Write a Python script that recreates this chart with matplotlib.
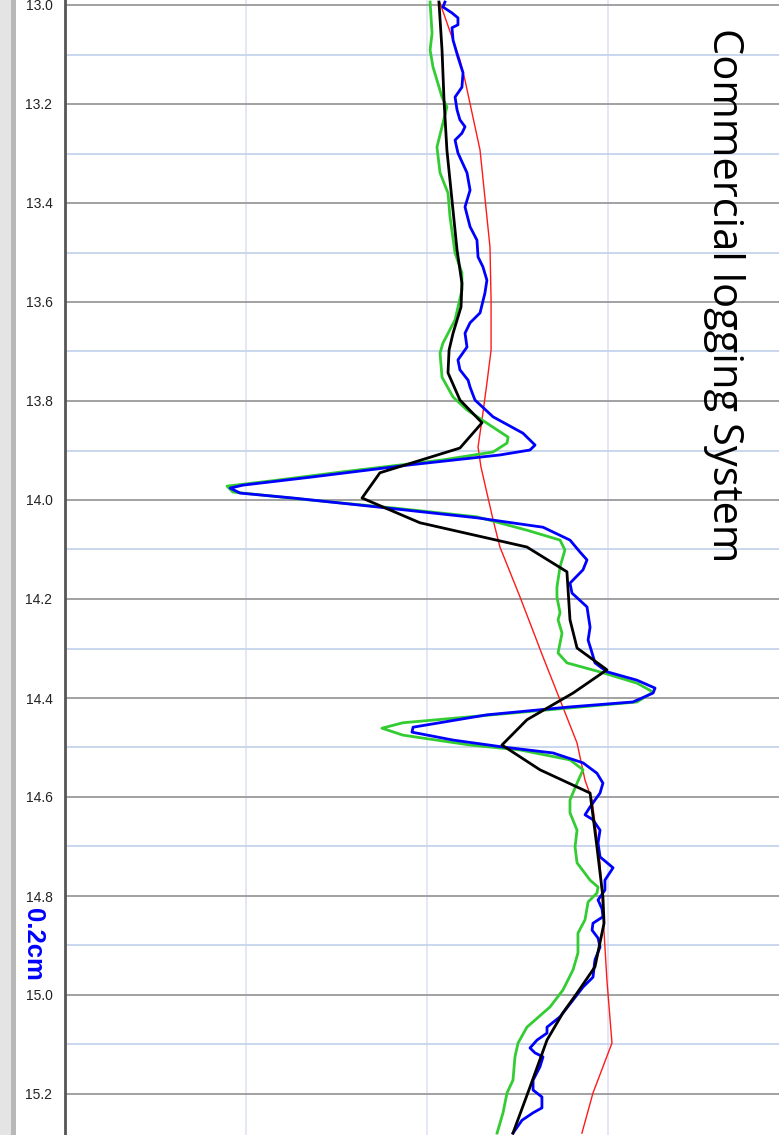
import matplotlib
matplotlib.use("Agg")
import matplotlib.pyplot as plt
from matplotlib.patches import Rectangle
import numpy as np

# ---- data (depth in m, log value in arbitrary track units) ----
green_x = [2.017, 2.028, 2.017, 2.033, 2.083, 2.110, 2.083, 2.055, 2.072, 2.116, 2.127, 2.155, 2.193, 2.193,
           2.155, 2.088, 2.072, 2.083, 2.144, 2.221, 2.365, 2.448, 2.442, 2.365, 2.088, 1.536, 1.171, 0.895,
           0.928, 1.354, 1.812, 2.276, 2.552, 2.735, 2.762, 2.735, 2.718, 2.718, 2.735, 2.724, 2.746, 2.724,
           2.773, 2.972, 3.160, 3.249, 3.160, 2.790, 2.238, 1.867, 1.751, 1.867, 2.238, 2.514, 2.790, 2.862,
           2.829, 2.790, 2.790, 2.829, 2.818, 2.829, 2.901, 2.945, 2.939, 2.890, 2.873, 2.834, 2.834, 2.807,
           2.751, 2.680, 2.552, 2.503, 2.486, 2.475, 2.442, 2.420, 2.387]
green_d = [12.994, 13.057, 13.091, 13.125, 13.186, 13.206, 13.246, 13.287, 13.339, 13.380, 13.428, 13.501,
           13.541, 13.576, 13.636, 13.683, 13.703, 13.752, 13.792, 13.818, 13.853, 13.873, 13.885, 13.903,
           13.919, 13.943, 13.960, 13.972, 13.984, 14.000, 14.016, 14.034, 14.061, 14.081, 14.101, 14.135,
           14.176, 14.196, 14.228, 14.242, 14.269, 14.309, 14.329, 14.349, 14.370, 14.388, 14.408, 14.420,
           14.438, 14.450, 14.461, 14.475, 14.495, 14.505, 14.525, 14.545, 14.572, 14.606, 14.632, 14.667,
           14.701, 14.733, 14.768, 14.782, 14.794, 14.812, 14.848, 14.875, 14.915, 14.949, 14.990, 15.024,
           15.065, 15.097, 15.125, 15.172, 15.198, 15.238, 15.279]

blue_x = [2.099, 2.088, 2.138, 2.171, 2.171, 2.138, 2.144, 2.171, 2.199, 2.193, 2.155, 2.166, 2.182, 2.210,
          2.193, 2.155, 2.171, 2.221, 2.238, 2.210, 2.238, 2.276, 2.282, 2.309, 2.331, 2.320, 2.293, 2.238,
          2.210, 2.221, 2.171, 2.182, 2.227, 2.238, 2.265, 2.365, 2.530, 2.597, 2.569, 2.403, 1.906, 1.354,
          0.983, 0.912, 0.967, 1.260, 1.724, 2.276, 2.641, 2.790, 2.845, 2.884, 2.862, 2.790, 2.801, 2.884,
          2.901, 2.890, 2.912, 2.928, 2.994, 3.160, 3.260, 3.249, 3.138, 2.790, 2.331, 1.923, 1.917, 2.144,
          2.420, 2.696, 2.862, 2.939, 2.972, 2.956, 2.901, 2.873, 2.917, 2.956, 2.945, 2.956, 3.028, 2.983,
          2.983, 2.945, 2.967, 2.972, 2.917, 2.912, 2.945, 2.956, 2.928, 2.917, 2.862, 2.807, 2.735, 2.663,
          2.663, 2.608, 2.569, 2.597, 2.641, 2.624, 2.586, 2.586, 2.635, 2.635, 2.586, 2.525, 2.475]
blue_d = [12.994, 13.004, 13.016, 13.026, 13.040, 13.046, 13.071, 13.105, 13.137, 13.166, 13.186, 13.212,
          13.232, 13.246, 13.259, 13.273, 13.299, 13.339, 13.374, 13.408, 13.448, 13.475, 13.509, 13.529,
          13.556, 13.582, 13.622, 13.642, 13.663, 13.691, 13.717, 13.737, 13.758, 13.772, 13.798, 13.832,
          13.865, 13.889, 13.899, 13.909, 13.929, 13.954, 13.970, 13.976, 13.986, 13.996, 14.014, 14.036,
          14.055, 14.081, 14.105, 14.121, 14.141, 14.168, 14.188, 14.216, 14.257, 14.283, 14.309, 14.329,
          14.347, 14.364, 14.380, 14.390, 14.408, 14.418, 14.434, 14.459, 14.469, 14.485, 14.499, 14.511,
          14.531, 14.552, 14.572, 14.592, 14.620, 14.636, 14.646, 14.667, 14.693, 14.721, 14.743, 14.768,
          14.788, 14.808, 14.826, 14.842, 14.855, 14.869, 14.885, 14.903, 14.929, 14.964, 14.984, 15.010,
          15.044, 15.065, 15.077, 15.091, 15.107, 15.117, 15.125, 15.145, 15.172, 15.192, 15.206, 15.228,
          15.238, 15.253, 15.279]

black_x = [2.066, 2.083, 2.094, 2.110, 2.138, 2.166, 2.193, 2.188, 2.144, 2.122, 2.116, 2.182, 2.304, 2.182,
           1.740, 1.641, 1.961, 2.552, 2.773, 2.790, 2.829, 2.994, 2.807, 2.552, 2.414, 2.624, 2.901, 2.939,
           2.972, 2.978, 2.928, 2.829, 2.751, 2.663, 2.569, 2.475]
black_d = [12.994, 13.091, 13.192, 13.293, 13.394, 13.495, 13.562, 13.610, 13.663, 13.697, 13.743, 13.798,
           13.844, 13.895, 13.945, 13.996, 14.046, 14.095, 14.145, 14.242, 14.299, 14.343, 14.390, 14.444,
           14.495, 14.545, 14.592, 14.701, 14.802, 14.855, 14.943, 14.996, 15.036, 15.091, 15.186, 15.279]

red_x = [2.072, 2.182, 2.210, 2.293, 2.348, 2.354, 2.354, 2.331, 2.309, 2.282, 2.298, 2.365, 2.403, 2.514,
         2.641, 2.735, 2.829, 2.873, 2.912, 2.956, 2.972, 2.994, 3.022, 2.917, 2.856]
red_d = [12.996, 13.111, 13.152, 13.293, 13.489, 13.596, 13.697, 13.764, 13.824, 13.893, 13.933, 14.040,
         14.095, 14.196, 14.317, 14.404, 14.491, 14.566, 14.606, 14.733, 14.834, 14.970, 15.097, 15.198,
         15.279]

depth_ticks = [13.0, 13.2, 13.4, 13.6, 13.8, 14.0, 14.2, 14.4, 14.6, 14.8, 15.0, 15.2]
depth_minor = [13.1, 13.3, 13.5, 13.7, 13.9, 14.1, 14.3, 14.5, 14.7, 14.9, 15.1]
track_grid = [1, 2, 3]

W, H = 779, 1135
fig = plt.figure(figsize=(W / 100, H / 100), dpi=100)
fig.patch.set_facecolor("white")

left_px = 65
ax = fig.add_axes([left_px / W, 0, 1 - left_px / W, 1])
ax.set_xlim(0, (W - left_px) / 181.0)
ax.set_ylim(13.0 + (H - 5) / 495.0, 13.0 - 5 / 495.0)

ax.set_yticks(depth_ticks)
ax.set_yticks(depth_minor, minor=True)
ax.set_yticklabels([f"{v:.1f}" for v in depth_ticks], fontsize=10, color="#222222",
                   family=["Liberation Sans", "DejaVu Sans"])
ax.set_xticks(track_grid)
ax.set_xticklabels([])
ax.tick_params(axis="both", which="both", length=0)
ax.tick_params(axis="y", pad=9)

ax.grid(which="major", axis="y", color="#9a9a9a", lw=1.3, zorder=0)
ax.grid(which="minor", axis="y", color="#c4d4ea", lw=1.3, zorder=0)
ax.grid(which="major", axis="x", color="#e2e5f5", lw=1.3, zorder=0)
ax.set_axisbelow(True)

for s in ["top", "right", "bottom"]:
    ax.spines[s].set_visible(False)
ax.spines["left"].set_color("#555555")
ax.spines["left"].set_linewidth(2)

ax.plot(red_x, red_d, color="#ff1a1a", lw=1.0, zorder=3)
ax.plot(green_x, green_d, color="#33cc33", lw=2.0, zorder=4)
ax.plot(blue_x, blue_d, color="#0000ff", lw=2.0, zorder=5)
ax.plot(black_x, black_d, color="#000000", lw=2.0, zorder=6)

# left frame decoration
fig.add_artist(Rectangle((0, 0), 11 / W, 1, transform=fig.transFigure, facecolor="#e4e4e4",
                         edgecolor="none", zorder=10))
fig.add_artist(Rectangle((11 / W, 0), 5 / W, 1, transform=fig.transFigure, facecolor="#b8b8b8",
                         edgecolor="none", zorder=10))

fig.text(724 / W, 1 - 295 / H, "Commercial logging System", rotation=270, ha="center", va="center",
         fontsize=30, family=["Open Sans", "DejaVu Sans"], color="black", zorder=20)
fig.text(33 / W, 1 - 944 / H, "0.2cm", rotation=270, ha="center", va="center", fontsize=18.5,
         fontweight="bold", family=["Liberation Sans", "DejaVu Sans"], color="#0000ff", zorder=20)

fig.savefig("out.png", dpi=100)
